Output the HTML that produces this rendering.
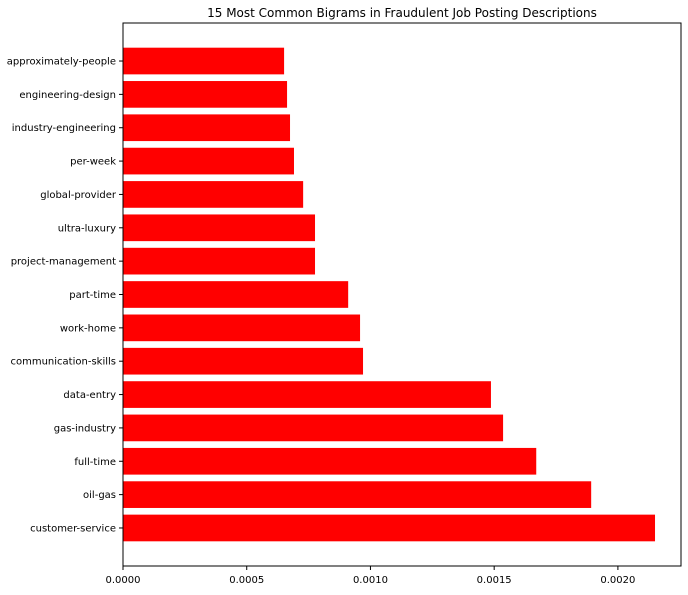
<!DOCTYPE html>
<html><head><meta charset="utf-8"><style>
body{margin:0;background:#fff;}
svg text{font-family:"DejaVu Sans","Liberation Sans",sans-serif;fill:#000;}
</style></head><body>
<svg id="chart" width="688" height="590" xmlns="http://www.w3.org/2000/svg">
<text x="402" y="17" font-size="12" text-anchor="middle">15 Most Common Bigrams in Fraudulent Job Posting Descriptions</text>
<g id="bars"></g><g id="axes"></g>
</svg>
<script>
const categories=["customer-service","oil-gas","full-time","gas-industry","data-entry","communication-skills","work-home","part-time","project-management","ultra-luxury","global-provider","per-week","industry-engineering","engineering-design","approximately-people"];
const values=[0.00215,0.001892,0.00167,0.001536,0.001487,0.00097,0.000958,0.00091,0.000776,0.000776,0.000728,0.000691,0.000675,0.000663,0.000651];
const xTicks=[0,0.0005,0.0010,0.0015,0.0020];
const xTickLabels=["0.0000","0.0005","0.0010","0.0015","0.0020"];
const L=123,R=681,T=23,B=566,xMax=0.002255;
const NS="http://www.w3.org/2000/svg";
const xs=v=>L+v/xMax*(R-L);
const yMin=-1.14,yMax=categories.length-1+1.14;
const ys=i=>B-(i-yMin)/(yMax-yMin)*(B-T);
const bh=0.8*(B-T)/(yMax-yMin);
const bars=document.getElementById('bars'),axes=document.getElementById('axes');
function mk(tag,attrs,parent){const e=document.createElementNS(NS,tag);for(const k in attrs)e.setAttribute(k,attrs[k]);parent.appendChild(e);return e;}
categories.forEach((c,i)=>{
 const r=mk('rect',{x:L,y:ys(i)-bh/2,width:xs(values[i])-L,height:bh,fill:'#ff0000'},bars);
 
 
 const tk=mk('line',{x1:L-4,x2:L,y1:ys(i),y2:ys(i),stroke:'#000','stroke-width':1},axes);
 
 
 const t=mk('text',{x:L-7,y:ys(i)+3.5,'font-size':10,'text-anchor':'end'},axes);
 t.textContent=c;
 
 
});
xTicks.forEach((v,i)=>{
 const tk=mk('line',{x1:xs(v),x2:xs(v),y1:B,y2:B+4,stroke:'#000','stroke-width':1},axes);
 
 
 const t=mk('text',{x:xs(v),y:B+17,'font-size':10,'text-anchor':'middle'},axes);
 t.textContent=xTickLabels[i];
 
 
});
const f=mk('rect',{x:L,y:T,width:R-L,height:B-T,fill:'none',stroke:'#000','stroke-width':1},axes);


</script>
</body></html>
